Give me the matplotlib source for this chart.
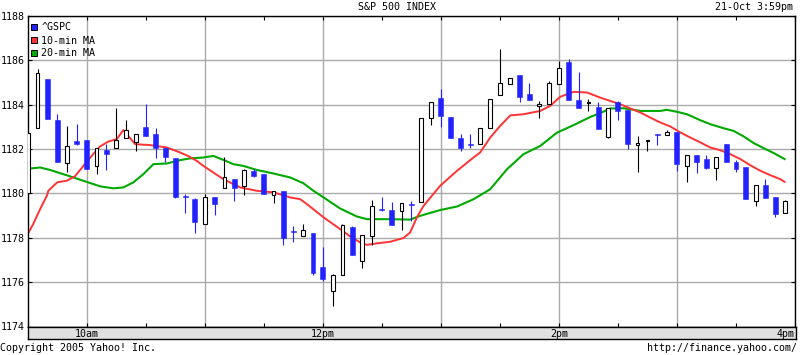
import numpy as np
import matplotlib
matplotlib.use("Agg")
import matplotlib.pyplot as plt
from matplotlib.patches import Patch
from matplotlib.ticker import FixedLocator, NullFormatter

# 5-minute candles of ^GSPC, 21-Oct-2005, 9:30 .. 3:55 (minutes after the open)
candle_min = np.arange(78) * 5

opens = [1180.00, 1182.97, 1185.14, 1183.30, 1181.35, 1182.36, 1182.41, 1181.24, 1181.96, 1182.03,
         1182.48, 1182.30, 1182.99, 1182.66, 1182.03, 1181.58, 1179.90, 1179.74, 1178.63, 1179.82,
         1180.23, 1180.64, 1180.34, 1181.00, 1180.87, 1179.95, 1180.10, 1178.30, 1178.09, 1178.21,
         1176.69, 1175.61, 1176.32, 1178.48, 1176.96, 1178.09, 1179.31, 1179.25, 1179.22, 1179.52,
         1179.62, 1183.42, 1184.32, 1183.46, 1182.52, 1182.21, 1182.25, 1182.97, 1184.46, 1184.95,
         1185.33, 1184.47, 1183.92, 1184.05, 1184.95, 1185.93, 1184.20, 1184.08, 1183.88, 1182.55,
         1184.13, 1183.75, 1182.19, 1182.35, 1182.69, 1182.64, 1182.77, 1181.24, 1181.73, 1181.55,
         1181.13, 1182.22, 1181.40, 1181.18, 1179.67, 1180.37, 1179.83, 1179.10]
highs = [1182.71, 1185.60, 1185.14, 1183.57, 1183.05, 1183.12, 1182.41, 1182.07, 1182.22, 1183.87,
         1183.30, 1182.70, 1184.02, 1182.93, 1182.03, 1181.58, 1179.98, 1179.80, 1179.97, 1179.82,
         1181.62, 1180.64, 1181.08, 1181.10, 1180.87, 1180.10, 1180.10, 1178.54, 1178.62, 1178.21,
         1177.59, 1176.36, 1178.62, 1178.53, 1178.12, 1179.71, 1179.83, 1179.62, 1179.55, 1179.67,
         1183.42, 1184.10, 1184.70, 1183.46, 1182.67, 1182.67, 1182.93, 1184.24, 1186.50, 1185.22,
         1185.33, 1184.97, 1184.17, 1185.06, 1185.97, 1186.05, 1185.48, 1184.25, 1184.12, 1183.87,
         1184.15, 1183.75, 1182.59, 1182.41, 1182.70, 1182.85, 1182.77, 1181.75, 1181.73, 1181.73,
         1181.66, 1182.22, 1181.50, 1181.18, 1180.37, 1180.64, 1179.83, 1179.70]
lows = [1179.95, 1182.97, 1183.34, 1181.42, 1180.97, 1182.18, 1181.09, 1180.87, 1181.06, 1182.03,
        1182.48, 1181.92, 1182.58, 1181.58, 1181.40, 1179.78, 1179.14, 1178.20, 1178.63, 1179.02,
        1180.23, 1179.67, 1179.94, 1180.75, 1179.98, 1179.56, 1177.67, 1177.82, 1178.09, 1176.32,
        1176.06, 1174.91, 1176.32, 1177.23, 1176.65, 1177.68, 1179.22, 1178.59, 1178.35, 1178.77,
        1179.62, 1183.08, 1183.00, 1182.50, 1181.92, 1182.05, 1182.25, 1182.97, 1184.46, 1184.95,
        1184.13, 1184.22, 1183.42, 1184.05, 1184.95, 1184.22, 1183.86, 1183.72, 1182.90, 1182.49,
        1183.30, 1182.00, 1180.97, 1181.92, 1182.18, 1182.64, 1181.02, 1180.52, 1180.91, 1181.09,
        1180.61, 1181.42, 1180.97, 1179.74, 1179.44, 1179.79, 1178.95, 1179.10]
closes = [1182.71, 1185.42, 1183.34, 1181.42, 1182.12, 1182.24, 1181.09, 1182.07, 1181.78, 1182.40,
          1182.88, 1182.70, 1182.58, 1182.03, 1181.62, 1179.82, 1179.85, 1178.72, 1179.86, 1179.53,
          1180.72, 1180.25, 1181.05, 1180.79, 1179.98, 1180.10, 1178.00, 1178.25, 1178.33, 1176.41,
          1176.14, 1176.32, 1178.57, 1177.23, 1178.12, 1179.45, 1179.27, 1178.59, 1179.55, 1179.48,
          1183.42, 1184.10, 1183.50, 1182.50, 1182.04, 1182.17, 1182.93, 1184.24, 1184.99, 1185.22,
          1184.36, 1184.22, 1184.05, 1184.98, 1185.64, 1184.22, 1183.86, 1184.12, 1182.90, 1183.87,
          1183.72, 1182.22, 1182.29, 1182.39, 1182.65, 1182.76, 1181.32, 1181.75, 1181.42, 1181.14,
          1181.66, 1181.42, 1181.09, 1179.74, 1180.37, 1179.79, 1179.07, 1179.64]

# moving averages (minute after open, value)
ma10_t = [0, 2.8, 6.3, 9.7, 10.5, 15, 19.8, 24, 28.3, 32.5, 36.8, 41, 45.3, 48.6, 54.6, 62.2,
          70.7, 77.4, 81.5, 85.9, 89.3, 99.5, 108, 116.4, 124.9, 133.4, 138.5, 141.9, 150.4, 158.8,
          163.9, 169, 172.4, 177.5, 184.2, 191, 194.4, 197.8, 201.2, 209.6, 218.2, 226.6, 230, 235.1,
          240.2, 245.3, 252, 260.5, 265.6, 270.7, 277.5, 284.3, 291, 296.1, 301.2, 306.3, 311.4,
          316.4, 321.5, 326.6, 331.7, 336.8, 341.9, 347, 352, 357.1, 362.2, 367.3, 372.4, 377.5,
          382.6, 384.7]
ma10_v = [1178.17, 1178.62, 1179.29, 1179.89, 1180.12, 1180.50, 1180.57, 1180.77, 1181.24, 1181.69,
          1182.12, 1182.34, 1182.45, 1182.86, 1182.22, 1182.18, 1182.07, 1181.85, 1181.69, 1181.47,
          1181.24, 1180.64, 1180.27, 1180.12, 1180.05, 1179.82, 1179.74, 1179.52, 1178.92, 1178.39,
          1178.06, 1177.79, 1177.68, 1177.75, 1177.82, 1177.99, 1178.24, 1178.92, 1179.44, 1180.34,
          1181.02, 1181.62, 1181.85, 1182.52, 1183.05, 1183.52, 1183.57, 1183.72, 1183.95, 1184.36,
          1184.58, 1184.55, 1184.32, 1184.17, 1184.02, 1183.83, 1183.65, 1183.42, 1183.20, 1183.02,
          1182.75, 1182.52, 1182.30, 1182.07, 1181.95, 1181.77, 1181.55, 1181.27, 1181.02, 1180.82,
          1180.64, 1180.52]
ma20_t = [0.8, 6.3, 11.3, 19.8, 28.3, 36.8, 43.5, 48.6, 53.7, 58.8, 63.9, 70.7, 77.4, 82.5, 89.3,
          94.4, 99.5, 104.5, 109.6, 116.4, 124.9, 133.4, 140.1, 145.2, 150.4, 158.8, 167.3, 172.4,
          184.2, 194.4, 199.5, 209.6, 218.2, 226.6, 235.1, 243.6, 252, 260.5, 269, 277.5, 286, 291,
          296.1, 302.9, 311.4, 321.5, 324.9, 330, 335.1, 341.9, 347, 353.7, 358.8, 363.9, 369,
          374.1, 379.2, 384.7]
ma20_v = [1181.12, 1181.17, 1181.06, 1180.82, 1180.57, 1180.32, 1180.23, 1180.27, 1180.50, 1180.87,
          1181.32, 1181.35, 1181.50, 1181.58, 1181.62, 1181.69, 1181.51, 1181.32, 1181.24, 1181.06,
          1180.90, 1180.72, 1180.46, 1180.12, 1179.82, 1179.32, 1178.96, 1178.84, 1178.84, 1178.82,
          1178.99, 1179.25, 1179.41, 1179.74, 1180.19, 1181.09, 1181.77, 1182.14, 1182.74, 1183.08,
          1183.45, 1183.62, 1183.83, 1183.84, 1183.72, 1183.72, 1183.77, 1183.68, 1183.57, 1183.30,
          1183.12, 1182.94, 1182.82, 1182.57, 1182.27, 1182.04, 1181.82, 1181.55]

hour_min = [30, 90, 150, 210, 270, 330, 390]
half_min = [0, 60, 120, 180, 240, 300, 360]
hour_labels = {30: "10am", 150: "12pm", 270: "2pm", 390: "4pm"}
y_ticks = [1174, 1176, 1178, 1180, 1182, 1184, 1186, 1188]

blue = "#2222ff"
red = "#ff3333"
green = "#00aa00"
grid_gray = "#aaaaaa"

plt.rcParams["font.family"] = "DejaVu Sans Mono"
plt.rcParams["font.size"] = 7.2

W, H = 800, 355
fig = plt.figure(figsize=(W / 100, H / 100), dpi=100, facecolor="white")

# main panel (pixel box 27.7..795 x 16..326.5)
ax = fig.add_axes([27.7 / W, (H - 326.5) / H, (795 - 27.7) / W, (326.5 - 16) / H])
ax.set_xlim(0, 390)
ax.set_ylim(1174, 1188)

o = np.array(opens)
c = np.array(closes)
hi = np.array(highs)
lo = np.array(lows)
up = c >= o

# wicks
ax.vlines(candle_min[up], lo[up], hi[up], color="black", lw=0.8, zorder=3)
ax.vlines(candle_min[~up], lo[~up], hi[~up], color=blue, lw=0.8, zorder=3)

# bodies
body_lo = np.minimum(o, c)
body_h = np.maximum(np.abs(c - o), 0.04)
ax.bar(candle_min[up], body_h[up], width=1.9, bottom=body_lo[up],
       facecolor="white", edgecolor="black", lw=0.8, zorder=4)
ax.bar(candle_min[~up], body_h[~up], width=2.5, bottom=body_lo[~up],
       facecolor=blue, edgecolor=blue, lw=0.4, zorder=4)

# moving averages, under the candles
ax.plot(ma20_t, ma20_v, color=green, lw=1.5, zorder=2)
ax.plot(ma10_t, ma10_v, color=red, lw=1.4, zorder=2)

ax.xaxis.set_major_locator(FixedLocator(hour_min))
ax.xaxis.set_minor_locator(FixedLocator(half_min))
ax.xaxis.set_major_formatter(NullFormatter())
ax.set_yticks(y_ticks)
ax.set_yticklabels([str(v) for v in y_ticks])
ax.grid(True, which="major", color=grid_gray, lw=1.0, zorder=0)
ax.set_axisbelow(True)
ax.tick_params(axis="x", which="both", direction="in", top=True, bottom=True,
               length=3, width=0.8, color="black")
ax.tick_params(axis="y", direction="in", left=True, right=True, length=3, width=0.8,
               pad=2, labelsize=7.2)
for s in ax.spines.values():
    s.set_color("black")
    s.set_linewidth(1.0)

handles = [Patch(facecolor=blue, edgecolor="black", lw=0.7),
           Patch(facecolor=red, edgecolor="black", lw=0.7),
           Patch(facecolor=green, edgecolor="black", lw=0.7)]
ax.legend(handles, ["^GSPC", "10-min MA", "20-min MA"], loc="upper left", frameon=False,
          bbox_to_anchor=(0, 1 - 3 / 310.5),
          fontsize=7.2, handlelength=0.6, handleheight=0.6, handletextpad=0.4,
          labelspacing=0.3, borderaxespad=0.15, borderpad=0.2)

# time band under the panel
band = fig.add_axes([27.7 / W, (H - 339) / H, (796 - 27.7) / W, (339 - 326.5) / H])
band.set_facecolor("#e0e0e0")
band.set_xlim(0, 390 * (796 - 27.7) / (795 - 27.7))
band.set_ylim(0, 1)
band.set_xticks([])
band.set_yticks([])
for s in band.spines.values():
    s.set_color("black")
    s.set_linewidth(1.0)
for m, lab in hour_labels.items():
    if m == 390:
        band.text(m, 0.4, lab, ha="right", va="center")
    else:
        band.text(m, 0.4, lab, ha="center", va="center")

fig.text(396.5 / W, 1 - 6.5 / H, "S&P 500 INDEX", ha="center", va="center")
fig.text(793 / W, 1 - 6.5 / H, "21-Oct 3:59pm", ha="right", va="center")
fig.text(0.5 / W, 1 - 348 / H, "Copyright 2005 Yahoo! Inc.", ha="left", va="center")
fig.text(797 / W, 1 - 348 / H, "http://finance.yahoo.com/", ha="right", va="center")

fig.savefig("out.png", dpi=100, facecolor="white")
